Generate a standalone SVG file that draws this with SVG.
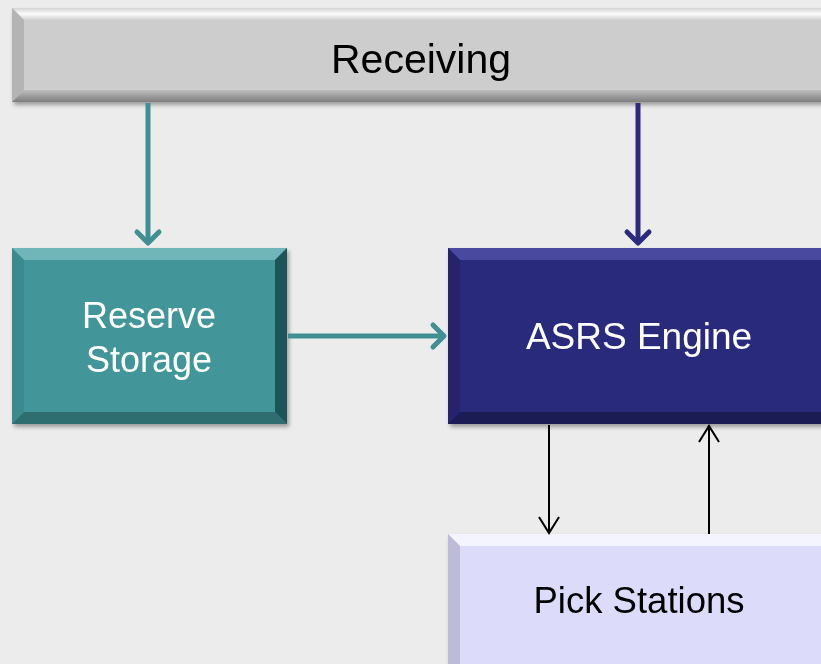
<svg xmlns="http://www.w3.org/2000/svg" width="821" height="664" viewBox="0 0 821 664">
<defs>
<filter id="sh" x="-5%" y="-5%" width="115%" height="120%">
<feGaussianBlur in="SourceAlpha" stdDeviation="2"/>
<feOffset dx="2" dy="3"/>
<feComponentTransfer><feFuncA type="linear" slope="0.35"/></feComponentTransfer>
<feMerge><feMergeNode/><feMergeNode in="SourceGraphic"/></feMerge>
</filter>
<linearGradient id="gTop" x1="0" y1="0" x2="0" y2="1">
<stop offset="0" stop-color="#d4d4d4"/>
<stop offset="0.5" stop-color="#fbfbfb"/>
<stop offset="1" stop-color="#d0d0d0"/>
</linearGradient>
<linearGradient id="gBot" x1="0" y1="0" x2="0" y2="1">
<stop offset="0" stop-color="#bdbdbd"/>
<stop offset="1" stop-color="#7e7e7e"/>
</linearGradient>
<marker id="ahT" markerWidth="10" markerHeight="10" refX="0" refY="0" orient="auto" markerUnits="userSpaceOnUse" overflow="visible">
<path d="M-11,-11 L0,0 L-11,11" fill="none" stroke="#3f8f93" stroke-width="5" stroke-linecap="round" stroke-linejoin="round"/>
</marker>
<marker id="ahN" markerWidth="10" markerHeight="10" refX="0" refY="0" orient="auto" markerUnits="userSpaceOnUse" overflow="visible">
<path d="M-11,-11 L0,0 L-11,11" fill="none" stroke="#2b2a7c" stroke-width="5" stroke-linecap="round" stroke-linejoin="round"/>
</marker>
<marker id="ahK" markerWidth="10" markerHeight="10" refX="0" refY="0" orient="auto" markerUnits="userSpaceOnUse" overflow="visible">
<path d="M-16,-10 L0,0 L-16,10" fill="none" stroke="#000" stroke-width="2"/>
</marker>
</defs>
<style>
.lbl{font-family:"Liberation Sans",Arial,sans-serif;font-size:36px;text-anchor:middle}
.w{fill:#ffffff}
.k{fill:#000000}
</style>
<rect width="821" height="664" fill="#ececec"/>

<g id="receiving" filter="url(#sh)">
<rect x="12" y="8" width="830" height="94" fill="#cdcdcd"/>
<polygon points="12,8 842,8 842,20 24,20" fill="url(#gTop)"/>
<polygon points="12,8 24,20 24,90 12,102" fill="#b4b4b4"/>
<polygon points="12,102 24,90 842,90 842,102" fill="url(#gBot)"/>
<text x="421" y="73" class="lbl k" style="font-size:41px">Receiving</text>
</g>

<g id="reserve" filter="url(#sh)">
<rect x="12" y="248" width="275" height="176" fill="#43969a"/>
<polygon points="12,248 287,248 275,260 24,260" fill="#6fb5b8"/>
<polygon points="12,248 24,260 24,412 12,424" fill="#3a8a8e"/>
<polygon points="12,424 24,412 275,412 287,424" fill="#2d6e71"/>
<polygon points="287,248 287,424 275,412 275,260" fill="#1f5558"/>
<text x="149" y="328" class="lbl w">Reserve</text>
<text x="149" y="372" class="lbl w">Storage</text>
</g>

<g id="asrs" filter="url(#sh)">
<rect x="448" y="248" width="400" height="176" fill="#2b2a7c"/>
<polygon points="448,248 848,248 848,260 460,260" fill="#4a49a0"/>
<polygon points="448,248 460,260 460,412 448,424" fill="#25246e"/>
<polygon points="448,424 460,412 848,412 848,424" fill="#1b1a55"/>
<text x="639" y="349" class="lbl w" style="font-size:37px">ASRS Engine</text>
</g>

<g id="pick" filter="url(#sh)">
<rect x="448" y="534" width="400" height="140" fill="#dcdcfa"/>
<polygon points="448,534 848,534 848,546 460,546" fill="#f4f4ff"/>
<polygon points="448,534 460,546 460,664 448,664" fill="#bcbcd8"/>
<text x="639" y="613" class="lbl k" style="font-size:36.5px">Pick Stations</text>
</g>

<g id="connectors">
<line x1="148" y1="103" x2="148" y2="243" stroke="#3f8f93" stroke-width="5" marker-end="url(#ahT)"/>
<line x1="638" y1="103" x2="638" y2="243" stroke="#2b2a7c" stroke-width="5" marker-end="url(#ahN)"/>
<line x1="288" y1="336" x2="444" y2="336" stroke="#3f8f93" stroke-width="5" marker-end="url(#ahT)"/>
<line x1="549" y1="425" x2="549" y2="533" stroke="#000" stroke-width="2" marker-end="url(#ahK)"/>
<line x1="709" y1="534" x2="709" y2="426" stroke="#000" stroke-width="2" marker-end="url(#ahK)"/>
</g>
</svg>
